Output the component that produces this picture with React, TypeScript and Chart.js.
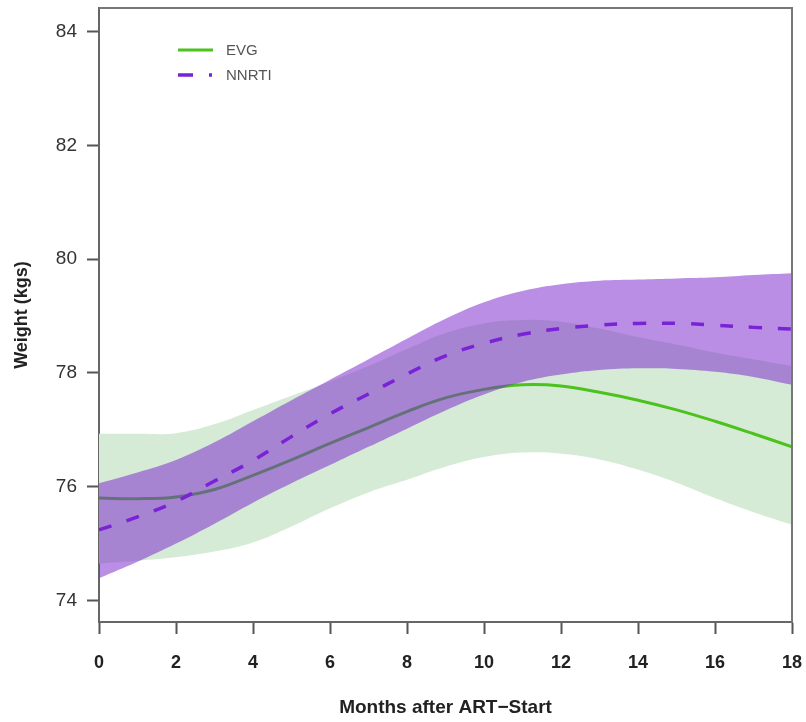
import React, { useEffect, useRef } from "react";
import { Chart, registerables } from "chart.js";

Chart.register(...registerables);

const months = [0, 1, 2, 3, 4, 5, 6, 7, 8, 9, 10, 11, 12, 13, 14, 15, 16, 17, 18];

const evgMean = [75.80, 75.79, 75.82, 75.95, 76.20, 76.47, 76.76, 77.04, 77.32, 77.56, 77.71, 77.79, 77.77, 77.66, 77.52, 77.35, 77.15, 76.93, 76.70];
const evgLower = [74.65, 74.70, 74.76, 74.86, 75.02, 75.30, 75.62, 75.90, 76.12, 76.35, 76.52, 76.60, 76.58, 76.48, 76.30, 76.07, 75.80, 75.55, 75.33];
const evgUpper = [76.93, 76.93, 76.94, 77.10, 77.35, 77.60, 77.85, 78.12, 78.42, 78.70, 78.87, 78.93, 78.90, 78.78, 78.63, 78.50, 78.36, 78.24, 78.12];

const nnrtiMean = [75.24, 75.47, 75.74, 76.10, 76.46, 76.88, 77.28, 77.63, 77.98, 78.30, 78.52, 78.68, 78.78, 78.84, 78.87, 78.87, 78.84, 78.80, 78.77];
const nnrtiLower = [74.39, 74.68, 75.00, 75.35, 75.72, 76.06, 76.38, 76.70, 77.02, 77.34, 77.62, 77.84, 77.97, 78.05, 78.08, 78.07, 78.02, 77.93, 77.79];
const nnrtiUpper = [76.06, 76.25, 76.47, 76.78, 77.15, 77.52, 77.88, 78.24, 78.60, 78.95, 79.24, 79.44, 79.56, 79.62, 79.64, 79.66, 79.68, 79.72, 79.75];

const xTicks = [0, 2, 4, 6, 8, 10, 12, 14, 16, 18];
const yTicks = [74, 76, 78, 80, 82, 84];
const legendLabels = ["EVG", "NNRTI"];

const xTitle = "Months after ART\u2212Start";
const yTitle = "Weight (kgs)";

const GREEN = "#4cc21e";
const GREEN_BAND = "#d6ebd6";
const PURPLE = "#7a22d6";
const PURPLE_BAND = "rgba(125,38,205,0.52)";
const FONT = "'Liberation Sans', Arial, Helvetica, sans-serif";

function pts(vals: number[]) {
  return months.map((m, i) => ({ x: m, y: vals[i] }));
}

const boxAndLegend = {
  id: "boxAndLegend",
  afterDatasetsDraw(chart: any) {
    const { ctx, chartArea } = chart;
    ctx.save();
    ctx.strokeStyle = "#777";
    ctx.lineWidth = 2;
    ctx.beginPath();
    ctx.moveTo(chartArea.left, chartArea.top);
    ctx.lineTo(chartArea.right, chartArea.top);
    ctx.lineTo(chartArea.right, chartArea.bottom);
    ctx.stroke();

    // legend
    const lx = chartArea.left + 79;
    const ly1 = chartArea.top + 42;
    const ly2 = chartArea.top + 67;
    ctx.lineCap = "butt";
    ctx.strokeStyle = GREEN;
    ctx.lineWidth = 3;
    ctx.beginPath();
    ctx.moveTo(lx, ly1);
    ctx.lineTo(lx + 35, ly1);
    ctx.stroke();
    ctx.strokeStyle = PURPLE;
    ctx.lineWidth = 3.5;
    ctx.beginPath();
    ctx.moveTo(lx, ly2);
    ctx.lineTo(lx + 15, ly2);
    ctx.moveTo(lx + 31, ly2);
    ctx.lineTo(lx + 34, ly2);
    ctx.stroke();
    ctx.fillStyle = "#555";
    ctx.font = `15px ${FONT}`;
    ctx.textBaseline = "middle";
    ctx.textAlign = "left";
    ctx.fillText(legendLabels[0], lx + 48, ly1 + 1);
    ctx.fillText(legendLabels[1], lx + 48, ly2 + 1);
    ctx.restore();
  },
};

export default function App() {
  const ref = useRef<HTMLCanvasElement | null>(null);

  useEffect(() => {
    if (!ref.current) return;
    const base = {
      pointRadius: 0,
      pointHoverRadius: 0,
      tension: 0.4,
    };
    const chart = new Chart(ref.current, {
      type: "line",
      data: {
        datasets: [
          { ...base, label: "evgLower", data: pts(evgLower), borderWidth: 0, borderColor: "transparent", fill: false, order: 5 },
          { ...base, label: "evgUpper", data: pts(evgUpper), borderWidth: 0, borderColor: "transparent", backgroundColor: GREEN_BAND, fill: "-1", order: 4 },
          { ...base, label: legendLabels[0], data: pts(evgMean), borderWidth: 3, borderColor: GREEN, fill: false, order: 3 },
          { ...base, label: "nnrtiLower", data: pts(nnrtiLower), borderWidth: 0, borderColor: "transparent", fill: false, order: 2 },
          { ...base, label: "nnrtiUpper", data: pts(nnrtiUpper), borderWidth: 0, borderColor: "transparent", backgroundColor: PURPLE_BAND, fill: "-1", order: 1 },
          { ...base, label: legendLabels[1], data: pts(nnrtiMean), borderWidth: 3.5, borderColor: PURPLE, borderDash: [13, 16], fill: false, order: 0 },
        ],
      },
      options: {
        animation: false,
        responsive: false,
        layout: { padding: { left: 0, top: 8, right: 14, bottom: 0 } },
        plugins: {
          legend: { display: false },
          tooltip: { enabled: false },
          filler: { drawTime: "beforeDatasetDraw" },
        },
        scales: {
          x: {
            type: "linear",
            min: 0,
            max: 18,
            afterFit(scale: any) {
              scale.height = 100;
              scale.paddingLeft = 0;
              scale.paddingRight = 0;
            },
            afterBuildTicks(scale: any) {
              scale.ticks = xTicks.map((v) => ({ value: v }));
            },
            grid: { drawOnChartArea: false, drawTicks: true, tickLength: 12, tickWidth: 2, tickColor: "#555" },
            border: { display: true, color: "#666", width: 2 },
            ticks: {
              padding: 18,
              maxRotation: 0,
              autoSkip: false,
              color: "#222",
              font: { family: FONT, size: 18, weight: "bold" },
            },
            title: {
              display: true,
              text: xTitle,
              color: "#222",
              font: { family: FONT, size: 19, weight: "bold" },
              padding: { top: 0, bottom: 3 },
            },
          },
          y: {
            type: "linear",
            min: 73.622,
            max: 84.413,
            afterFit(scale: any) {
              scale.width = 99;
              scale.paddingTop = 0;
              scale.paddingBottom = 0;
            },
            afterBuildTicks(scale: any) {
              scale.ticks = yTicks.map((v) => ({ value: v }));
            },
            grid: { drawOnChartArea: false, drawTicks: true, tickLength: 12, tickWidth: 2, tickColor: "#555" },
            border: { display: true, color: "#666", width: 2 },
            ticks: {
              padding: 10,
              autoSkip: false,
              color: "#333",
              font: { family: FONT, size: 19 },
            },
            title: {
              display: true,
              text: yTitle,
              color: "#222",
              font: { family: FONT, size: 18, weight: "bold" },
              padding: { top: 11, bottom: 0 },
            },
          },
        },
      },
      plugins: [boxAndLegend],
    } as any);
    return () => chart.destroy();
  }, []);

  return (
    <div style={{ position: "fixed", left: 0, top: 0, width: 806, height: 722, background: "#fff" }}>
      <canvas ref={ref} width={806} height={722} style={{ display: "block", width: 806, height: 722 }} />
    </div>
  );
}
